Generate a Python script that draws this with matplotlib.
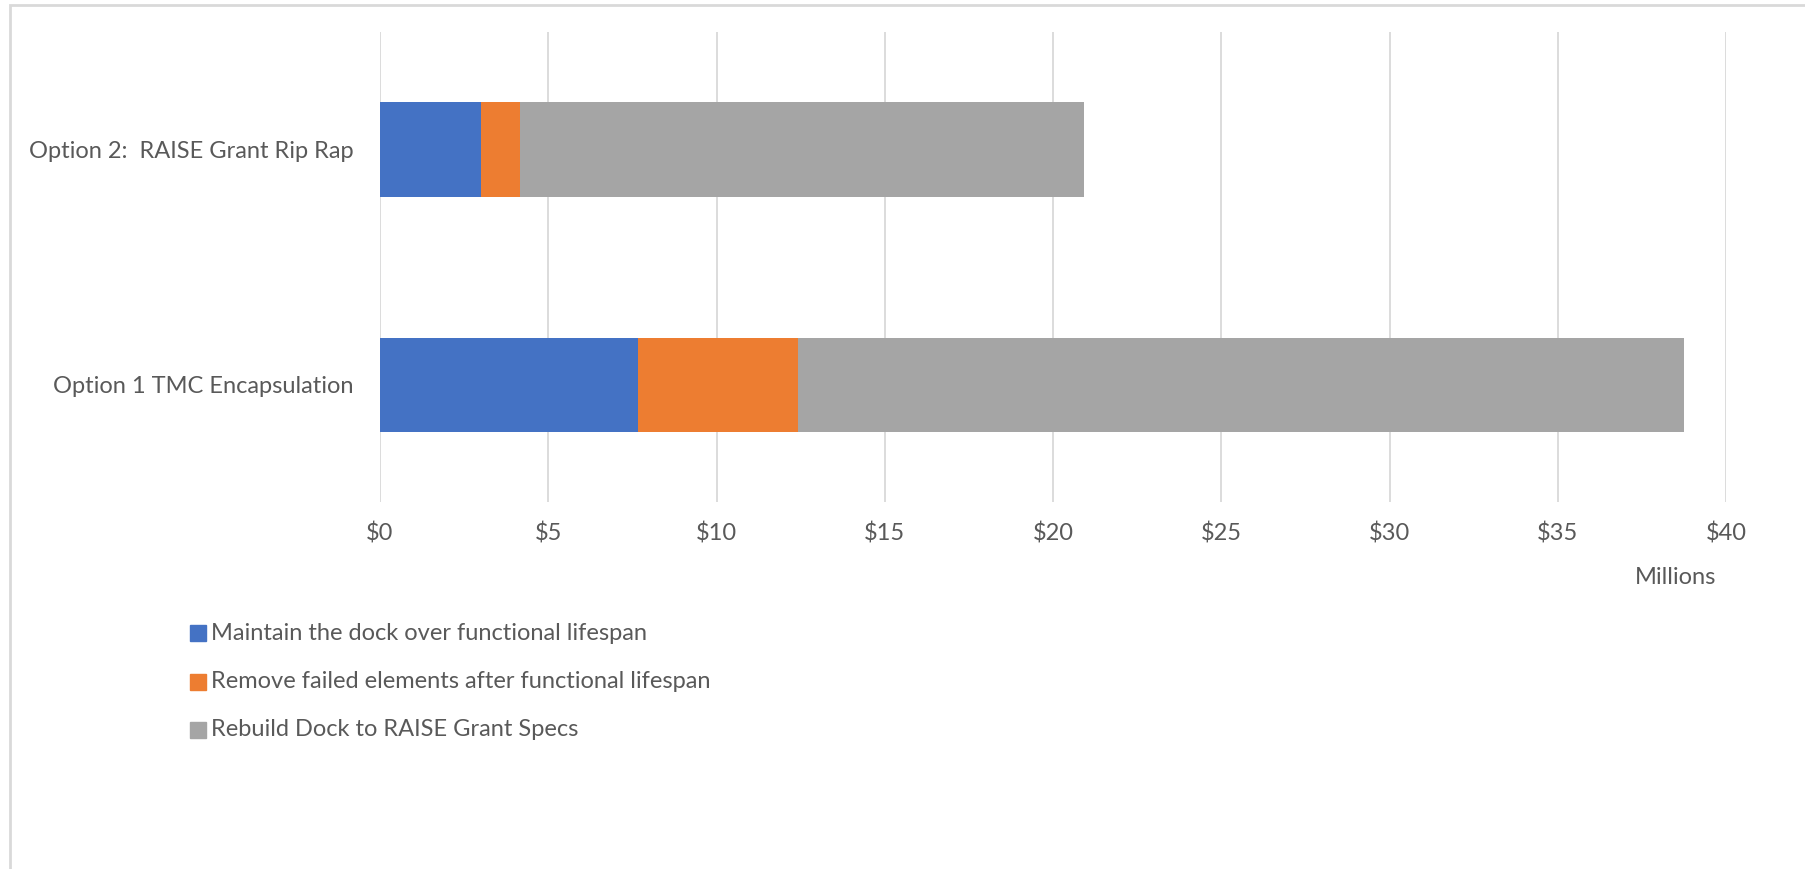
import matplotlib
matplotlib.use("Agg")
import matplotlib.pyplot as plt
from matplotlib.patches import Rectangle
from matplotlib.ticker import FuncFormatter

plt.rcParams['font.family'] = ['Lato', 'DejaVu Sans']

categories = ["Option 1 TMC Encapsulation", "Option 2:  RAISE Grant Rip Rap"]
series_names = [
    "Maintain the dock over functional lifespan",
    "Remove failed elements after functional lifespan",
    "Rebuild Dock to RAISE Grant Specs",
]
maintain = [7.67, 3.0]
remove = [4.74, 1.17]
rebuild = [26.33, 16.76]
x_ticks = [0, 5, 10, 15, 20, 25, 30, 35, 40]

colors = ["#4472C4", "#ED7D31", "#A5A5A5"]
text_color = "#595959"
fs = 17
W, H = 1806, 869

fig = plt.figure(figsize=(W / 100, H / 100), dpi=100)
ax = fig.add_axes([380 / W, 1 - 502 / H, 1346 / W, 470 / H])

y = list(range(len(categories)))
left = [0.0] * len(categories)
for vals, col in zip([maintain, remove, rebuild], colors):
    ax.barh(y, vals, left=left, height=0.40, color=col, zorder=2)
    left = [l + v for l, v in zip(left, vals)]

ax.set_xlim(0, 40)
ax.set_ylim(-0.5, 1.5)
ax.set_xticks(x_ticks)
ax.xaxis.set_major_formatter(FuncFormatter(lambda v, p: f"${v:.0f}"))
ax.set_yticks(y)
ax.set_yticklabels(categories)
ax.grid(axis="x", color="#d9d9d9", linewidth=1.3, zorder=0)
ax.set_axisbelow(True)
for s in ax.spines.values():
    s.set_visible(False)
ax.tick_params(axis="x", length=0, pad=15, labelsize=fs, labelcolor=text_color)
ax.tick_params(axis="y", length=0, pad=19, labelsize=fs, labelcolor=text_color)

fig.text(1716 / W, 1 - 577 / H, "Millions", ha="right", va="center",
         fontsize=fs, color=text_color)

# legend drawn as square swatches with labels
for i, (name, col) in enumerate(zip(series_names, colors)):
    yc = 633 + i * 48.5
    fig.patches.append(Rectangle((190 / W, 1 - (yc + 8) / H), 16 / W, 16 / H,
                                 transform=fig.transFigure, color=col))
    fig.text(211 / W, 1 - yc / H, name, ha="left", va="center",
             fontsize=fs, color=text_color)

# outer frame
fig.patches.append(Rectangle((10 / W, -0.1), 1.2, 1 - 5 / H + 0.1,
                             transform=fig.transFigure, fill=False,
                             edgecolor="#d9d9d9", linewidth=2))

fig.savefig("out.png", dpi=100, facecolor="white")
